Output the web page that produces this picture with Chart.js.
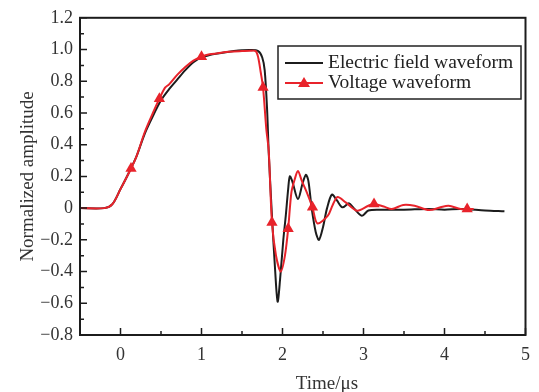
<!DOCTYPE html>
<html>
<head>
<meta charset="utf-8">
<script src="https://cdn.jsdelivr.net/npm/chart.js@4/dist/chart.umd.min.js"></script>
<style>
  html, body { margin: 0; padding: 0; background: #fff; }
  #wrap { width: 539px; height: 392px; }
</style>
</head>
<body>
<div id="wrap"><canvas id="waveChart" width="539" height="392"></canvas></div>
<script>
// Axis ticks
const xTicks = [0, 1, 2, 3, 4, 5];
const yTicks = [-0.8, -0.6, -0.4, -0.2, 0, 0.2, 0.4, 0.6, 0.8, 1.0, 1.2];

// Electric field waveform (black)
const fieldT = [-0.5, -0.2, -0.1, 0.0, 0.1, 0.2, 0.3, 0.4, 0.5, 0.6, 0.7, 0.8, 0.9, 1.0, 1.1, 1.2, 1.3, 1.4, 1.5, 1.6,
    1.7, 1.75, 1.78, 1.81, 1.83, 1.87, 1.91, 1.94, 1.97, 2.01, 2.04, 2.07, 2.09, 2.12, 2.19, 2.25, 2.29, 2.32, 2.36,
    2.41, 2.45, 2.5, 2.55, 2.61, 2.67, 2.74, 2.82, 2.88, 2.98, 3.06, 3.2, 3.5, 3.8, 4.0, 4.2, 4.5, 4.74];
const fieldV = [0, 0, 0.025, 0.12, 0.22, 0.33, 0.47, 0.58, 0.68, 0.75, 0.81, 0.87, 0.92, 0.95, 0.965, 0.975, 0.983, 0.99, 0.995, 0.997,
    0.99, 0.95, 0.87, 0.62, 0.35, -0.05, -0.4, -0.59, -0.45, -0.2, -0.05, 0.12, 0.2, 0.17, 0.057, 0.16, 0.21, 0.17, 0.0,
    -0.15, -0.2, -0.12, 0.0, 0.085, 0.05, 0.005, 0.03, 0.0, -0.048, -0.015, -0.01, -0.01, -0.005, -0.01, -0.005, -0.015, -0.02];

// Voltage waveform (red)
const voltT = [-0.5, -0.2, -0.1, 0.0, 0.13, 0.2, 0.3, 0.4, 0.48, 0.55, 0.6, 0.7, 0.8, 0.9, 1.0, 1.1, 1.2, 1.3, 1.4, 1.5, 1.6, 1.67,
    1.7, 1.73, 1.76, 1.8, 1.83, 1.87, 1.92, 1.98, 2.03, 2.07, 2.11, 2.15, 2.19, 2.24, 2.3, 2.37, 2.43, 2.56, 2.62, 2.68,
    2.78, 2.92, 3.06, 3.13, 3.25, 3.35, 3.49, 3.63, 3.81, 3.95, 4.05, 4.2, 4.28, 4.36];
const voltV = [0, 0, 0.025, 0.12, 0.25, 0.33, 0.48, 0.6, 0.69, 0.76, 0.78, 0.84, 0.89, 0.93, 0.955, 0.97, 0.976, 0.984, 0.988, 0.99, 0.992, 0.99,
    0.95, 0.86, 0.76, 0.5, 0.36, -0.09, -0.3, -0.4, -0.3, -0.13, 0.1, 0.18, 0.234, 0.17, 0.1, 0.005, -0.096, -0.047, 0.02, 0.07,
    0.036, -0.016, 0.015, 0.026, 0.01, -0.006, 0.02, 0.015, -0.012, 0.005, 0.015, -0.006, -0.006, -0.005];
// times where the triangle markers sit
const voltMarkers = [0.13, 0.48, 1.0, 1.76, 1.87, 2.07, 2.37, 3.13, 4.28];

const black = '#1c1c1c';
const red = '#e8232b';
const serif = "'Liberation Serif', 'DejaVu Serif', serif";

const fieldData = fieldT.map((t, i) => ({ x: t, y: fieldV[i] }));
const voltData = voltT.map((t, i) => ({ x: t, y: voltV[i] }));

// Inward ticks, frame, x title and legend
const framePlugin = {
    id: 'frame',
    afterDraw(chart) {
        const { ctx, chartArea: a, scales: { x, y } } = chart;
        ctx.save();
        ctx.strokeStyle = black;
        ctx.lineWidth = 1.5;
        ctx.beginPath();
        xTicks.forEach(v => {
            const px = x.getPixelForValue(v);
            ctx.moveTo(px, a.bottom); ctx.lineTo(px, a.bottom - 7);
            const mx = x.getPixelForValue(v - 0.5);
            if (v - 0.5 > x.min) { ctx.moveTo(mx, a.bottom); ctx.lineTo(mx, a.bottom - 4); }
        });
        yTicks.forEach((v, i) => {
            const py = y.getPixelForValue(v);
            ctx.moveTo(a.left, py); ctx.lineTo(a.left + 7, py);
            if (i > 0) {
                const my = y.getPixelForValue(v - 0.1);
                ctx.moveTo(a.left, my); ctx.lineTo(a.left + 4, my);
            }
        });
        ctx.stroke();

        ctx.lineWidth = 2;
        ctx.strokeRect(a.left, a.top, a.right - a.left, a.bottom - a.top);

        // x axis title, set a little right of centre as in the source figure
        ctx.fillStyle = '#333';
        ctx.font = '19px ' + serif;
        ctx.textAlign = 'center';
        ctx.textBaseline = 'alphabetic';
        ctx.fillText('Time/μs', 327, 389);

        // legend box
        const bx = 278, by = 46, bw = 243, bh = 53;
        ctx.fillStyle = '#fff';
        ctx.fillRect(bx, by, bw, bh);
        ctx.lineWidth = 1.5;
        ctx.strokeStyle = '#222';
        ctx.strokeRect(bx, by, bw, bh);

        ctx.lineWidth = 2;
        ctx.strokeStyle = black;
        ctx.beginPath(); ctx.moveTo(285, 63); ctx.lineTo(323, 63); ctx.stroke();
        ctx.strokeStyle = red;
        ctx.beginPath(); ctx.moveTo(285, 83); ctx.lineTo(323, 83); ctx.stroke();
        ctx.fillStyle = red;
        ctx.beginPath(); ctx.moveTo(304, 77); ctx.lineTo(310, 87); ctx.lineTo(298, 87); ctx.closePath(); ctx.fill();

        ctx.fillStyle = '#222';
        ctx.font = '19.5px ' + serif;
        ctx.textBaseline = 'middle';
        ctx.textAlign = 'left';
        ctx.fillText('Electric field waveform', 328, 63);
        ctx.fillText('Voltage waveform', 328, 83);
        ctx.restore();
    }
};

new Chart(document.getElementById('waveChart'), {
    type: 'line',
    data: {
        datasets: [
            {
                label: 'Electric field waveform',
                data: fieldData,
                borderColor: black,
                borderWidth: 2,
                pointRadius: 0,
                tension: 0.3,
                order: 2
            },
            {
                label: 'Voltage waveform',
                data: voltData,
                borderColor: red,
                backgroundColor: red,
                borderWidth: 2,
                pointStyle: 'triangle',
                pointRadius: ctx => voltMarkers.includes(voltT[ctx.dataIndex]) ? 6.5 : 0,
                pointBorderWidth: 0,
                tension: 0.3,
                order: 1
            }
        ]
    },
    options: {
        responsive: false,
        animation: false,
        layout: { padding: { top: 16, right: 6, left: 0, bottom: 0 } },
        plugins: {
            legend: { display: false },
            tooltip: { enabled: false }
        },
        scales: {
            x: {
                type: 'linear',
                min: -0.5,
                max: 5,
                afterBuildTicks: s => { s.ticks = xTicks.map(v => ({ value: v })); },
                afterFit: s => { s.height = 57; },
                grid: { display: false, drawTicks: false },
                border: { display: false },
                ticks: {
                    padding: 9,
                    color: '#333',
                    font: { family: serif, size: 18 },
                    callback: v => String(v)
                }
            },
            y: {
                min: -0.8,
                max: 1.2,
                afterBuildTicks: s => { s.ticks = yTicks.map(v => ({ value: v })); },
                afterFit: s => { s.width = 80; },
                grid: { display: false, drawTicks: false },
                border: { display: false },
                ticks: {
                    padding: 7,
                    color: '#333',
                    font: { family: serif, size: 18 },
                    callback: v => Math.abs(v) < 1e-9 ? '0' : (v < 0 ? '\u2212' : '') + Math.abs(v).toFixed(1)
                },
                title: {
                    display: true,
                    text: 'Normalized amplitude',
                    color: '#333',
                    font: { family: serif, size: 19 },
                    padding: { top: 17, bottom: 0 }
                }
            }
        }
    },
    plugins: [framePlugin]
});
</script>
</body>
</html>
